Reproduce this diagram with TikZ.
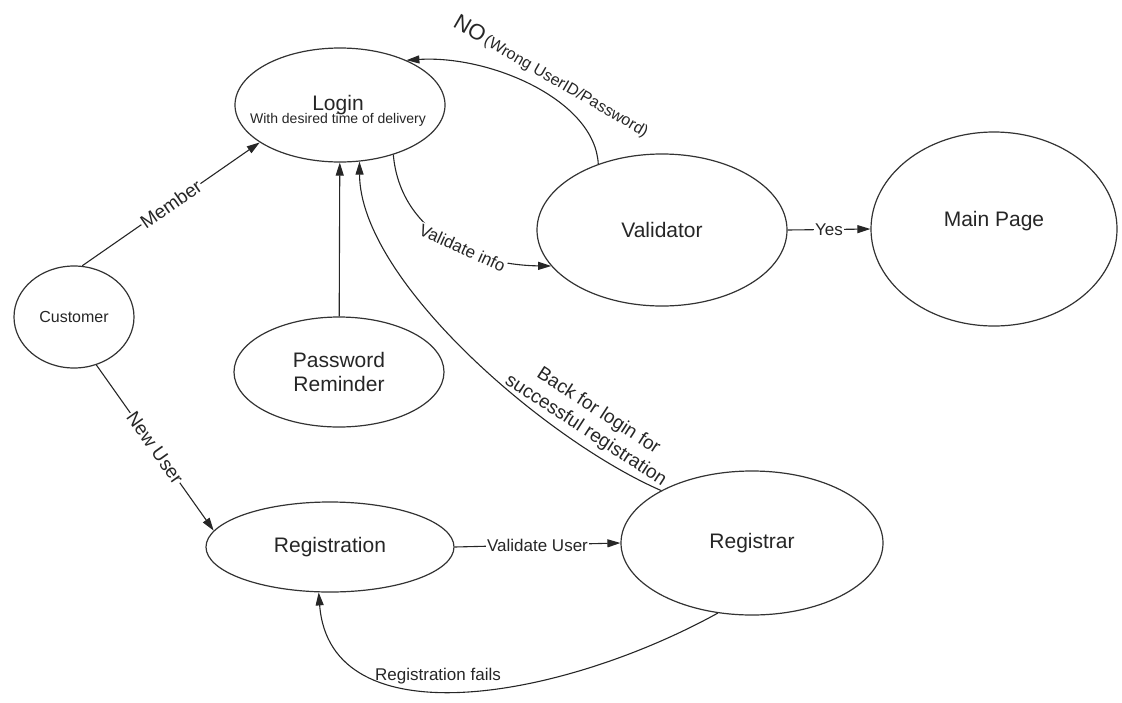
\documentclass[tikz,border=0pt]{standalone}
\usepackage{fontspec}
\setmainfont{Liberation Sans}
\usetikzlibrary{shapes.geometric,arrows.meta}
\begin{document}
\begin{tikzpicture}[x=1pt,y=-1pt]
\tikzset{
 ell/.style={ellipse, draw=black!80, line width=1.2pt, inner sep=0pt, fill=white},
 arr/.style={draw=black!85, line width=1.1pt, -{Triangle[length=13pt,width=8pt]}},
 lab/.style={font=\fontsize{19}{21}\selectfont, text=black!85, inner sep=1pt},
 big/.style={font=\fontsize{21}{24}\selectfont, text=black!85, align=center},
}
\useasboundingbox (0,0) rectangle (1122,702);
% nodes
\node[ell, minimum width=210pt, minimum height=114pt] (login) at (340,105) {};
\node[text=black!85, align=center, inner sep=0pt] (logintxt) at (338,111)
 {{\fontsize{21}{21}\selectfont Login}\\[-3pt]{\fontsize{14}{14}\selectfont With desired time of delivery}};
\node[ell, minimum width=120pt, minimum height=102pt, font=\fontsize{16}{18}\selectfont, text=black!85] (customer) at (74,317) {Customer};
\node[ell, big, minimum width=210pt, minimum height=110pt] (pwd) at (339,372) {Password\\Reminder};
\node[ell, big, minimum width=250pt, minimum height=152pt] (validator) at (662,230) {Validator};
\node[ell, big, minimum width=246pt, minimum height=194pt, text depth=20pt] (mainpage) at (994,229) {Main Page};
\node[ell, big, minimum width=248pt, minimum height=90pt] (registration) at (330,547) {Registration};
\node[ell, big, minimum width=262pt, minimum height=144pt] (registrar) at (752,543) {Registrar};
% connectors
\draw[arr] (customer.81) -- node[lab, sloped, fill=white] (memberlbl) {Member} (login.205);
\draw[arr] (customer.-65) -- node[lab, sloped, fill=white] (newuserlbl) {New User} (registration.172);
\draw[arr] (pwd) -- (login);
\draw[arr] (registrar.150) .. controls (545,440) and (360,280) .. (login.289);
\node[lab, rotate=-33, align=center] (backlbl) at (592,421) {Back for login for\\[2pt]successful registration};
\draw[arr] (login.317) .. controls (400,230) and (470,265) .. node[lab, sloped, fill=white, pos=0.6, font=\fontsize{17}{19}\selectfont] (vinfolbl) {Validate info} (validator.198);
\draw[arr] (validator.134) .. controls (595,100) and (490,55) .. (login.34);
\node[rotate=-30, anchor=base west, text=black!85, inner sep=0pt] (nolbl) at (452,26)
 {{\fontsize{22}{22}\selectfont NO} {\fontsize{16}{16}\selectfont (Wrong UserID/Password)}};
\draw[arr] (validator.east) -- node[lab, fill=white, font=\fontsize{17}{19}\selectfont] (yeslbl) {Yes} (mainpage.west);
\draw[arr] (registration.east) -- node[lab, fill=white, font=\fontsize{17}{19}\selectfont] (vuserlbl) {Validate User} (registrar.west);
\draw[arr] (registrar.244) .. controls (560,700) and (330,740) .. (registration.256);
\node[lab, font=\fontsize{17}{19}\selectfont] (faillbl) at (438,676) {Registration fails};
\end{tikzpicture}
\end{document}
